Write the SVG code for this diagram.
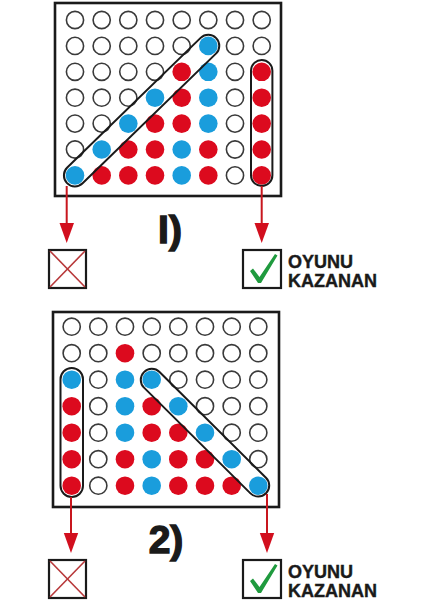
<svg xmlns="http://www.w3.org/2000/svg" width="424" height="600" viewBox="0 0 424 600">
<defs>
<style>
.frame{fill:#fff;stroke:#1a1a1a;stroke-width:2.6}
.e{fill:#fff;stroke:#3a3a3a;stroke-width:1.6}
.r{fill:#dc0a1e}
.b{fill:#1a9ddc}
.cap{fill:none;stroke:#1a1a1a;stroke-width:2}
.arr{stroke:#c8161e;stroke-width:2;fill:none}
.head{fill:#d20f1e}
.box{fill:#fff;stroke:#1a1a1a;stroke-width:2.2}
.x{stroke:#b8383a;stroke-width:1.6}
.chk{fill:#1f9a3e}
.lbl{font-family:"Liberation Sans",Arial,sans-serif;font-weight:bold;fill:#1a1a1a}
.num{font-size:39px;stroke:#1a1a1a;stroke-width:1.4}
.win{font-size:18px;stroke:#1a1a1a;stroke-width:0.4}
</style>
</defs>
<rect width="424" height="600" fill="#fff"/>

<g id="board1">
<rect class="frame" x="55" y="3" width="226" height="193"/>
<g id="board1-cells">
<circle class="e" cx="75" cy="20" r="8.6"/><circle class="e" cx="101.7" cy="20" r="8.6"/><circle class="e" cx="128.3" cy="20" r="8.6"/><circle class="e" cx="155" cy="20" r="8.6"/><circle class="e" cx="181.7" cy="20" r="8.6"/><circle class="e" cx="208.3" cy="20" r="8.6"/><circle class="e" cx="235" cy="20" r="8.6"/><circle class="e" cx="261.7" cy="20" r="8.6"/>
<circle class="e" cx="75" cy="45.9" r="8.6"/><circle class="e" cx="101.7" cy="45.9" r="8.6"/><circle class="e" cx="128.3" cy="45.9" r="8.6"/><circle class="e" cx="155" cy="45.9" r="8.6"/><circle class="e" cx="181.7" cy="45.9" r="8.6"/><circle class="b" cx="208.3" cy="45.9" r="9.3"/><circle class="e" cx="235" cy="45.9" r="8.6"/><circle class="e" cx="261.7" cy="45.9" r="8.6"/>
<circle class="e" cx="75" cy="71.8" r="8.6"/><circle class="e" cx="101.7" cy="71.8" r="8.6"/><circle class="e" cx="128.3" cy="71.8" r="8.6"/><circle class="e" cx="155" cy="71.8" r="8.6"/><circle class="r" cx="181.7" cy="71.8" r="9.3"/><circle class="b" cx="208.3" cy="71.8" r="9.3"/><circle class="e" cx="235" cy="71.8" r="8.6"/><circle class="r" cx="261.7" cy="71.8" r="9.3"/>
<circle class="e" cx="75" cy="97.7" r="8.6"/><circle class="e" cx="101.7" cy="97.7" r="8.6"/><circle class="e" cx="128.3" cy="97.7" r="8.6"/><circle class="b" cx="155" cy="97.7" r="9.3"/><circle class="r" cx="181.7" cy="97.7" r="9.3"/><circle class="b" cx="208.3" cy="97.7" r="9.3"/><circle class="e" cx="235" cy="97.7" r="8.6"/><circle class="r" cx="261.7" cy="97.7" r="9.3"/>
<circle class="e" cx="75" cy="123.6" r="8.6"/><circle class="e" cx="101.7" cy="123.6" r="8.6"/><circle class="b" cx="128.3" cy="123.6" r="9.3"/><circle class="r" cx="155" cy="123.6" r="9.3"/><circle class="r" cx="181.7" cy="123.6" r="9.3"/><circle class="b" cx="208.3" cy="123.6" r="9.3"/><circle class="e" cx="235" cy="123.6" r="8.6"/><circle class="r" cx="261.7" cy="123.6" r="9.3"/>
<circle class="e" cx="75" cy="149.5" r="8.6"/><circle class="b" cx="101.7" cy="149.5" r="9.3"/><circle class="r" cx="128.3" cy="149.5" r="9.3"/><circle class="r" cx="155" cy="149.5" r="9.3"/><circle class="b" cx="181.7" cy="149.5" r="9.3"/><circle class="r" cx="208.3" cy="149.5" r="9.3"/><circle class="e" cx="235" cy="149.5" r="8.6"/><circle class="r" cx="261.7" cy="149.5" r="9.3"/>
<circle class="b" cx="75" cy="175.4" r="9.3"/><circle class="r" cx="101.7" cy="175.4" r="9.3"/><circle class="r" cx="128.3" cy="175.4" r="9.3"/><circle class="r" cx="155" cy="175.4" r="9.3"/><circle class="b" cx="181.7" cy="175.4" r="9.3"/><circle class="r" cx="208.3" cy="175.4" r="9.3"/><circle class="e" cx="235" cy="175.4" r="8.6"/><circle class="r" cx="261.7" cy="175.4" r="9.3"/>
</g>
<rect class="cap" x="-104" y="-11" width="208" height="22" rx="11" transform="translate(141.6 110.6) rotate(-44.2)"/>
<rect class="cap" x="251" y="60" width="21.4" height="126" rx="10.7"/>
</g>

<g id="board2">
<rect class="frame" x="53" y="312" width="226" height="195"/>
<g id="board2-cells">
<circle class="e" cx="71.7" cy="326.7" r="8.6"/><circle class="e" cx="98.3" cy="326.7" r="8.6"/><circle class="e" cx="125" cy="326.7" r="8.6"/><circle class="e" cx="151.7" cy="326.7" r="8.6"/><circle class="e" cx="178.3" cy="326.7" r="8.6"/><circle class="e" cx="205" cy="326.7" r="8.6"/><circle class="e" cx="231.7" cy="326.7" r="8.6"/><circle class="e" cx="258.3" cy="326.7" r="8.6"/>
<circle class="e" cx="71.7" cy="353.2" r="8.6"/><circle class="e" cx="98.3" cy="353.2" r="8.6"/><circle class="r" cx="125" cy="353.2" r="9.3"/><circle class="e" cx="151.7" cy="353.2" r="8.6"/><circle class="e" cx="178.3" cy="353.2" r="8.6"/><circle class="e" cx="205" cy="353.2" r="8.6"/><circle class="e" cx="231.7" cy="353.2" r="8.6"/><circle class="e" cx="258.3" cy="353.2" r="8.6"/>
<circle class="b" cx="71.7" cy="379.7" r="9.3"/><circle class="e" cx="98.3" cy="379.7" r="8.6"/><circle class="b" cx="125" cy="379.7" r="9.3"/><circle class="b" cx="151.7" cy="379.7" r="9.3"/><circle class="e" cx="178.3" cy="379.7" r="8.6"/><circle class="e" cx="205" cy="379.7" r="8.6"/><circle class="e" cx="231.7" cy="379.7" r="8.6"/><circle class="e" cx="258.3" cy="379.7" r="8.6"/>
<circle class="r" cx="71.7" cy="406.2" r="9.3"/><circle class="e" cx="98.3" cy="406.2" r="8.6"/><circle class="b" cx="125" cy="406.2" r="9.3"/><circle class="r" cx="151.7" cy="406.2" r="9.3"/><circle class="b" cx="178.3" cy="406.2" r="9.3"/><circle class="e" cx="205" cy="406.2" r="8.6"/><circle class="e" cx="231.7" cy="406.2" r="8.6"/><circle class="e" cx="258.3" cy="406.2" r="8.6"/>
<circle class="r" cx="71.7" cy="432.7" r="9.3"/><circle class="e" cx="98.3" cy="432.7" r="8.6"/><circle class="b" cx="125" cy="432.7" r="9.3"/><circle class="r" cx="151.7" cy="432.7" r="9.3"/><circle class="r" cx="178.3" cy="432.7" r="9.3"/><circle class="b" cx="205" cy="432.7" r="9.3"/><circle class="e" cx="231.7" cy="432.7" r="8.6"/><circle class="e" cx="258.3" cy="432.7" r="8.6"/>
<circle class="r" cx="71.7" cy="459.2" r="9.3"/><circle class="e" cx="98.3" cy="459.2" r="8.6"/><circle class="r" cx="125" cy="459.2" r="9.3"/><circle class="b" cx="151.7" cy="459.2" r="9.3"/><circle class="r" cx="178.3" cy="459.2" r="9.3"/><circle class="r" cx="205" cy="459.2" r="9.3"/><circle class="b" cx="231.7" cy="459.2" r="9.3"/><circle class="e" cx="258.3" cy="459.2" r="8.6"/>
<circle class="r" cx="71.7" cy="485.7" r="9.3"/><circle class="e" cx="98.3" cy="485.7" r="8.6"/><circle class="r" cx="125" cy="485.7" r="9.3"/><circle class="b" cx="151.7" cy="485.7" r="9.3"/><circle class="r" cx="178.3" cy="485.7" r="9.3"/><circle class="r" cx="205" cy="485.7" r="9.3"/><circle class="r" cx="231.7" cy="485.7" r="9.3"/><circle class="b" cx="258.3" cy="485.7" r="9.3"/>
</g>
<rect class="cap" x="60.5" y="368" width="22.5" height="129" rx="11.2"/>
<rect class="cap" x="-86" y="-11" width="172" height="22" rx="11" transform="translate(205 432.7) rotate(44.8)"/>
</g>

<g id="connectors">
<line class="arr" x1="66.7" y1="186" x2="66.7" y2="226"/>
<polygon class="head" points="59.5,223 74,223 66.7,243"/>
<line class="arr" x1="261.7" y1="186" x2="261.7" y2="226"/>
<polygon class="head" points="254.5,223 269,223 261.7,243"/>
<line class="arr" x1="71" y1="497" x2="71" y2="536"/>
<polygon class="head" points="63.8,533 78.2,533 71,553"/>
<line class="arr" x1="267" y1="494" x2="267" y2="536"/>
<polygon class="head" points="259.8,533 274.2,533 267,553"/>
</g>

<g id="label1">
<text class="lbl num" x="170" y="243" text-anchor="middle">I)</text>
</g>
<g id="label2">
<text class="lbl num" x="166" y="553" text-anchor="middle">2)</text>
</g>

<g id="lose1">
<rect class="box" x="49" y="250" width="37" height="38"/>
<line class="x" x1="50" y1="251" x2="85" y2="287"/>
<line class="x" x1="85" y1="251" x2="50" y2="287"/>
</g>
<g id="win1">
<rect class="box" x="243" y="250" width="38" height="38"/>
<polygon class="chk" points="250,271 253,268.5 259.5,277 275,254 277.5,255.5 261,283 258,283"/>
<text class="lbl win" x="288" y="268">OYUNU</text>
<text class="lbl win" x="288" y="287">KAZANAN</text>
</g>

<g id="lose2">
<rect class="box" x="49" y="560" width="37" height="38"/>
<line class="x" x1="50" y1="561" x2="85" y2="597"/>
<line class="x" x1="85" y1="561" x2="50" y2="597"/>
</g>
<g id="win2">
<rect class="box" x="243" y="560" width="38" height="38"/>
<polygon class="chk" points="250,581 253,578.5 259.5,587 275,564 277.5,565.5 261,593 258,593"/>
<text class="lbl win" x="288" y="578">OYUNU</text>
<text class="lbl win" x="288" y="597">KAZANAN</text>
</g>
</svg>
